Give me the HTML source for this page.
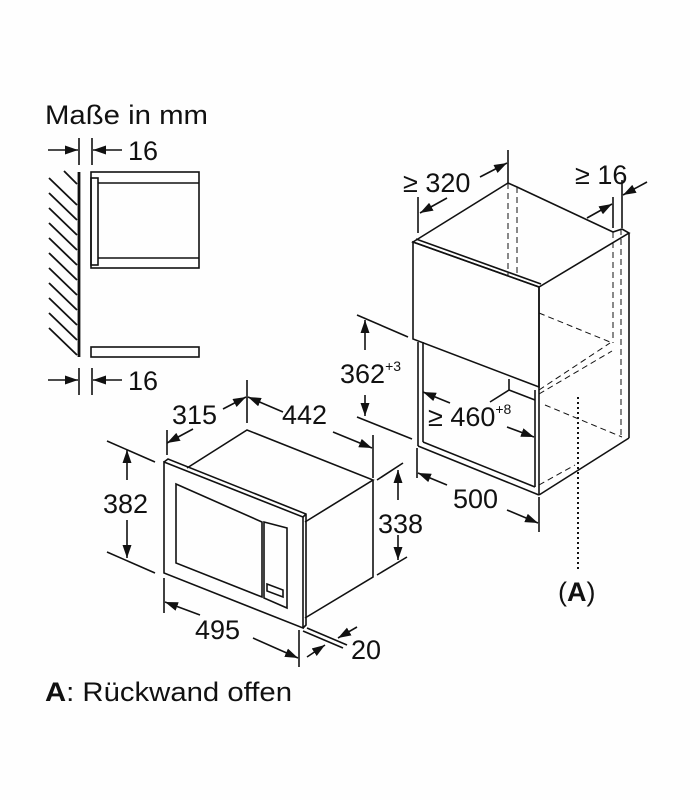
<!DOCTYPE html>
<html><head><meta charset="utf-8"><style>
html,body{margin:0;padding:0;background:#fff}
svg{display:block}
text{font-family:"Liberation Sans",sans-serif;fill:#111}
</style></head><body>
<svg width="700" height="800" viewBox="0 0 700 800" xmlns="http://www.w3.org/2000/svg">
<defs>
<marker id="a" viewBox="0 0 13 9" refX="13" refY="4.5" markerWidth="13" markerHeight="9" markerUnits="userSpaceOnUse" orient="auto"><path d="M0,0L13,4.5L0,9z" fill="#111"/></marker>
</defs>
<rect width="700" height="800" fill="#fefefe"/>
<g stroke="#111" stroke-width="1.6" fill="none">
<line x1="79" y1="172" x2="79" y2="357" stroke-width="2.8"/>
<g stroke-width="1.8">
<line x1="49" y1="178" x2="77" y2="205"/><line x1="49" y1="193" x2="77" y2="220"/>
<line x1="49" y1="208" x2="77" y2="235"/><line x1="49" y1="223" x2="77" y2="250"/>
<line x1="49" y1="238" x2="77" y2="265"/><line x1="49" y1="253" x2="77" y2="280"/>
<line x1="49" y1="268" x2="77" y2="295"/><line x1="49" y1="283" x2="77" y2="310"/>
<line x1="49" y1="298" x2="77" y2="325"/><line x1="49" y1="313" x2="77" y2="340"/>
<line x1="49" y1="328" x2="77" y2="355"/><line x1="64" y1="171" x2="77" y2="184"/>
</g>
<rect x="91" y="172" width="108" height="96"/>
<line x1="98" y1="183" x2="199" y2="183"/>
<line x1="98" y1="258" x2="199" y2="258"/>
<rect x="91" y="178" width="7" height="87"/>
<rect x="91" y="347" width="108" height="10"/>
<line x1="79" y1="138" x2="79" y2="165"/><line x1="92" y1="138" x2="92" y2="165"/>
<line x1="48" y1="150" x2="78" y2="150" marker-end="url(#a)"/>
<line x1="122" y1="150" x2="93" y2="150" marker-end="url(#a)"/>
<line x1="79" y1="368" x2="79" y2="395"/><line x1="92" y1="368" x2="92" y2="395"/>
<line x1="48" y1="380" x2="78" y2="380" marker-end="url(#a)"/>
<line x1="122" y1="380" x2="93" y2="380" marker-end="url(#a)"/>

<path d="M413,242 L508,183 L517,187 L613,232 L622,229 L629,233 L539,287 Z"/>
<path d="M413,242 L539,287 L539,387 L413,339 Z"/>
<line x1="416" y1="239" x2="541" y2="284"/>
<line x1="629" y1="233" x2="629" y2="438"/>
<line x1="629" y1="438" x2="539" y2="495"/>
<line x1="539" y1="287" x2="539" y2="495"/>
<line x1="535" y1="390" x2="535" y2="487"/>
<line x1="418" y1="342" x2="418" y2="446"/>
<line x1="423" y1="342" x2="423" y2="442"/>
<line x1="418" y1="446" x2="539" y2="495"/>
<line x1="423" y1="442" x2="535" y2="487"/>
<line x1="509" y1="379" x2="509" y2="390"/>
<line x1="509" y1="390" x2="535" y2="400"/>
<g stroke-dasharray="6,4" stroke-width="1">
<line x1="508" y1="183" x2="508" y2="275"/><line x1="517" y1="187" x2="517" y2="275"/>
<line x1="613" y1="232" x2="613" y2="343"/><line x1="621" y1="229" x2="621" y2="438"/>
<line x1="539" y1="313" x2="610" y2="342"/>
<line x1="539" y1="390" x2="610" y2="343"/>
<line x1="539" y1="394" x2="612" y2="351"/>
<line x1="545" y1="405" x2="622" y2="437"/>
<line x1="539" y1="485" x2="575" y2="465"/>
</g>
<line x1="578" y1="397" x2="578" y2="572" stroke-dasharray="2,3" stroke-width="2"/>
<line x1="508" y1="150" x2="508" y2="183"/><line x1="418" y1="197" x2="418" y2="233"/>
<line x1="480" y1="177" x2="507" y2="163" marker-end="url(#a)"/>
<line x1="447" y1="198" x2="420" y2="213" marker-end="url(#a)"/>
<line x1="613" y1="197" x2="613" y2="228"/><line x1="622" y1="180" x2="622" y2="228"/>
<line x1="587" y1="218" x2="612" y2="204" marker-end="url(#a)"/>
<line x1="647" y1="182" x2="623" y2="195" marker-end="url(#a)"/>
<line x1="357" y1="315" x2="408" y2="337"/><line x1="357" y1="417" x2="412" y2="439"/>
<line x1="365" y1="350" x2="365" y2="320" marker-end="url(#a)"/>
<line x1="365" y1="395" x2="365" y2="416" marker-end="url(#a)"/>
<line x1="450" y1="403" x2="423" y2="392" marker-end="url(#a)"/>
<line x1="507" y1="427" x2="534" y2="437" marker-end="url(#a)"/>
<line x1="490" y1="402" x2="509" y2="390"/>
<line x1="417" y1="448" x2="417" y2="478"/><line x1="539" y1="497" x2="539" y2="532"/>
<line x1="447" y1="485" x2="418" y2="473" marker-end="url(#a)"/>
<line x1="507" y1="510" x2="538" y2="523" marker-end="url(#a)"/>

<path d="M187,468 L247,430 L373,480 L305,522"/>
<path d="M373,480 L373,577 L305,618"/>
<path d="M164,462 L303,517 L303,628 L164,573 Z"/>
<path d="M164,462 L168,459 L306,514 L306,625 L303,628"/>
<line x1="306" y1="514" x2="303" y2="517"/>
<path d="M176,484 L262,522 L262,597 L176,563 Z"/>
<path d="M264,522 L287,528 L287,608 L264,598 Z"/>
<path d="M267,584 L283,590 L283,597 L267,591 Z"/>
<line x1="167" y1="430" x2="167" y2="455"/><line x1="247" y1="380" x2="247" y2="423"/>
<line x1="193" y1="429" x2="167" y2="443" marker-end="url(#a)"/>
<line x1="223" y1="409" x2="246" y2="397" marker-end="url(#a)"/>
<line x1="283" y1="412" x2="248" y2="397" marker-end="url(#a)"/>
<line x1="333" y1="432" x2="372" y2="448" marker-end="url(#a)"/>
<line x1="373" y1="435" x2="373" y2="478"/>
<line x1="107" y1="441" x2="155" y2="462"/><line x1="107" y1="552" x2="155" y2="573"/>
<line x1="127" y1="480" x2="127" y2="450" marker-end="url(#a)"/>
<line x1="127" y1="520" x2="127" y2="558" marker-end="url(#a)"/>
<line x1="377" y1="480" x2="403" y2="463"/><line x1="377" y1="575" x2="407" y2="557"/>
<line x1="398" y1="500" x2="398" y2="470" marker-end="url(#a)"/>
<line x1="398" y1="535" x2="398" y2="560" marker-end="url(#a)"/>
<line x1="164" y1="578" x2="164" y2="613"/><line x1="299" y1="630" x2="299" y2="667"/>
<line x1="200" y1="615" x2="165" y2="602" marker-end="url(#a)"/>
<line x1="253" y1="638" x2="298" y2="658" marker-end="url(#a)"/>
<line x1="303" y1="631" x2="343" y2="648"/><line x1="307" y1="628" x2="347" y2="645"/>
<line x1="307" y1="657" x2="325" y2="645" marker-end="url(#a)"/>
<line x1="357" y1="627" x2="338" y2="638" marker-end="url(#a)"/>
</g>
<g font-size="27">
<text x="45" y="124" textLength="163" lengthAdjust="spacingAndGlyphs">Maße in mm</text>
<text x="128" y="160">16</text>
<text x="128" y="390">16</text>
<text x="403" y="192">≥ 320</text>
<text x="575" y="184">≥ 16</text>
<text x="340" y="383">362<tspan font-size="14" dy="-12">+3</tspan></text>
<text x="428" y="426">≥ 460<tspan font-size="14" dy="-12">+8</tspan></text>
<text x="453" y="508">500</text>
<text x="172" y="424">315</text>
<text x="282" y="424">442</text>
<text x="103" y="513">382</text>
<text x="378" y="533">338</text>
<text x="195" y="639">495</text>
<text x="351" y="659">20</text>
<text x="558" y="601">(<tspan font-weight="bold">A</tspan>)</text>
<text x="45" y="701" textLength="247" lengthAdjust="spacingAndGlyphs"><tspan font-weight="bold">A</tspan>: Rückwand offen</text>
</g>
</svg>
</body></html>
